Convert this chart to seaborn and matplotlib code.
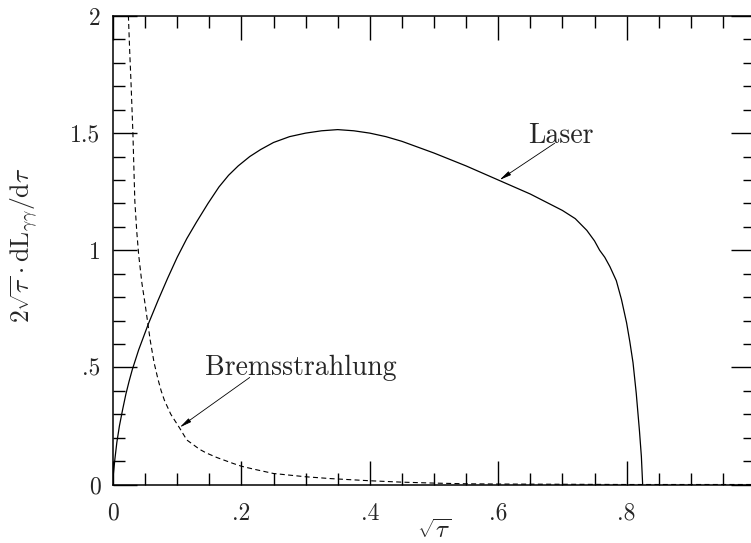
import numpy as np
import pandas as pd
import matplotlib
matplotlib.use("Agg")
import matplotlib.pyplot as plt
import matplotlib.ticker as mticker
import seaborn as sns

# Laser photon-photon luminosity (solid curve)
laser_x = [0.0, 0.003, 0.006, 0.01, 0.015, 0.02, 0.025, 0.03, 0.04, 0.055, 0.07, 0.085,
           0.1, 0.115, 0.13, 0.148, 0.165, 0.18, 0.195, 0.213, 0.23, 0.25, 0.275,
           0.3, 0.325, 0.35, 0.375, 0.4, 0.425, 0.45, 0.5, 0.55, 0.6, 0.65, 0.7,
           0.72, 0.738, 0.75, 0.758, 0.766, 0.774, 0.784, 0.792, 0.8, 0.805, 0.81,
           0.815, 0.82, 0.823, 0.825]
laser_y = [0.03, 0.11, 0.18, 0.25, 0.32, 0.385, 0.44, 0.49, 0.575, 0.685, 0.785, 0.88,
           0.97, 1.05, 1.12, 1.2, 1.27, 1.32, 1.36, 1.4, 1.43, 1.46, 1.485,
           1.5, 1.51, 1.515, 1.51, 1.5, 1.485, 1.465, 1.415, 1.36, 1.3, 1.24, 1.17,
           1.135, 1.085, 1.04, 1.0, 0.97, 0.93, 0.87, 0.79, 0.69, 0.61, 0.52,
           0.39, 0.23, 0.12, 0.0]

# Bremsstrahlung spectrum (dashed curve)
brems_x = [0.022, 0.024, 0.026, 0.028, 0.031, 0.034, 0.037, 0.04, 0.045, 0.05, 0.058,
           0.064, 0.07, 0.075, 0.08, 0.09, 0.097, 0.104, 0.115, 0.135, 0.145, 0.162,
           0.187, 0.2, 0.22, 0.25, 0.3, 0.34, 0.4, 0.45, 0.5, 0.55, 0.6, 0.7, 0.8,
           0.9, 1.0]
brems_y = [2.2, 2.0, 1.85, 1.72, 1.5, 1.21, 1.08, 0.98, 0.86, 0.77, 0.615,
           0.52, 0.45, 0.4, 0.36, 0.3, 0.27, 0.24, 0.19, 0.15, 0.135, 0.115,
           0.09, 0.078, 0.065, 0.047, 0.033, 0.025, 0.016, 0.01, 0.006, 0.003, 0.002,
           0.001, 0.0, 0.0, 0.0]

xtick_vals = [0, 0.2, 0.4, 0.6, 0.8, 1.0]
xtick_labels = ["0", ".2", ".4", ".6", ".8", "1"]
ytick_vals = [0, 0.5, 1.0, 1.5, 2.0]
ytick_labels = ["0", ".5", "1", "1.5", "2"]

sns.set_style("ticks")
plt.rcParams["font.family"] = ["cmr10", "DejaVu Serif"]
plt.rcParams["mathtext.fontset"] = "cm"
plt.rcParams["axes.unicode_minus"] = False

W, H = 751, 543
fig = plt.figure(figsize=(W / 100, H / 100), dpi=100)
left, right, top, bottom = 113, 755, 16, 484.5
ax = fig.add_axes([left / W, 1 - bottom / H, (right - left) / W, (bottom - top) / H])

laser = pd.DataFrame({"x": laser_x, "y": laser_y})
brems = pd.DataFrame({"x": brems_x, "y": brems_y})

sns.lineplot(data=laser, x="x", y="y", ax=ax, color="black", linewidth=0.9,
             sort=False, estimator=None)
sns.lineplot(data=brems, x="x", y="y", ax=ax, color="black", linewidth=0.8,
             sort=False, estimator=None, linestyle=(0, (4.5, 3)))

ax.set_xlim(0, 1)
ax.set_ylim(0, 2)

ax.xaxis.set_major_locator(mticker.FixedLocator(xtick_vals))
ax.xaxis.set_major_formatter(mticker.FixedFormatter(xtick_labels))
ax.xaxis.set_minor_locator(mticker.MultipleLocator(0.05))
ax.yaxis.set_major_locator(mticker.FixedLocator(ytick_vals))
ax.yaxis.set_major_formatter(mticker.FixedFormatter(ytick_labels))
ax.yaxis.set_minor_locator(mticker.MultipleLocator(0.1))

ax.tick_params(which="both", direction="in", top=True, right=True, color="black",
               width=1.0)
ax.tick_params(which="major", length=17, labelsize=17)
ax.tick_params(axis="x", which="major", pad=13)
ax.tick_params(axis="y", which="major", pad=9)
ax.tick_params(which="minor", length=8.5)
for s in ax.spines.values():
    s.set_linewidth(1.1)
    s.set_color("black")

ax.set_xlabel(r"$\sqrt{\tau}$", fontsize=18, va="center")
ax.xaxis.set_label_coords(0.5, -0.1)
ax.set_ylabel(r"$2\sqrt{\tau}\cdot{\rm dL}_{\gamma\gamma}/{\rm d}\tau$", fontsize=18.5)
ax.yaxis.set_label_coords(-0.114, 0.51)

arrow = dict(arrowstyle="-|>,head_length=0.7,head_width=0.13", color="black",
             lw=0.6, shrinkA=0, shrinkB=0)
ax.text(0.646, 1.49, "Laser", fontsize=20, ha="left", va="center")
ax.annotate("", xy=(0.602, 1.30), xytext=(0.688, 1.457), arrowprops=arrow)
ax.text(0.143, 0.50, "Bremsstrahlung", fontsize=20, ha="left", va="center")
ax.annotate("", xy=(0.104, 0.244), xytext=(0.213, 0.457), arrowprops=arrow)

fig.savefig("out.png", dpi=100)
